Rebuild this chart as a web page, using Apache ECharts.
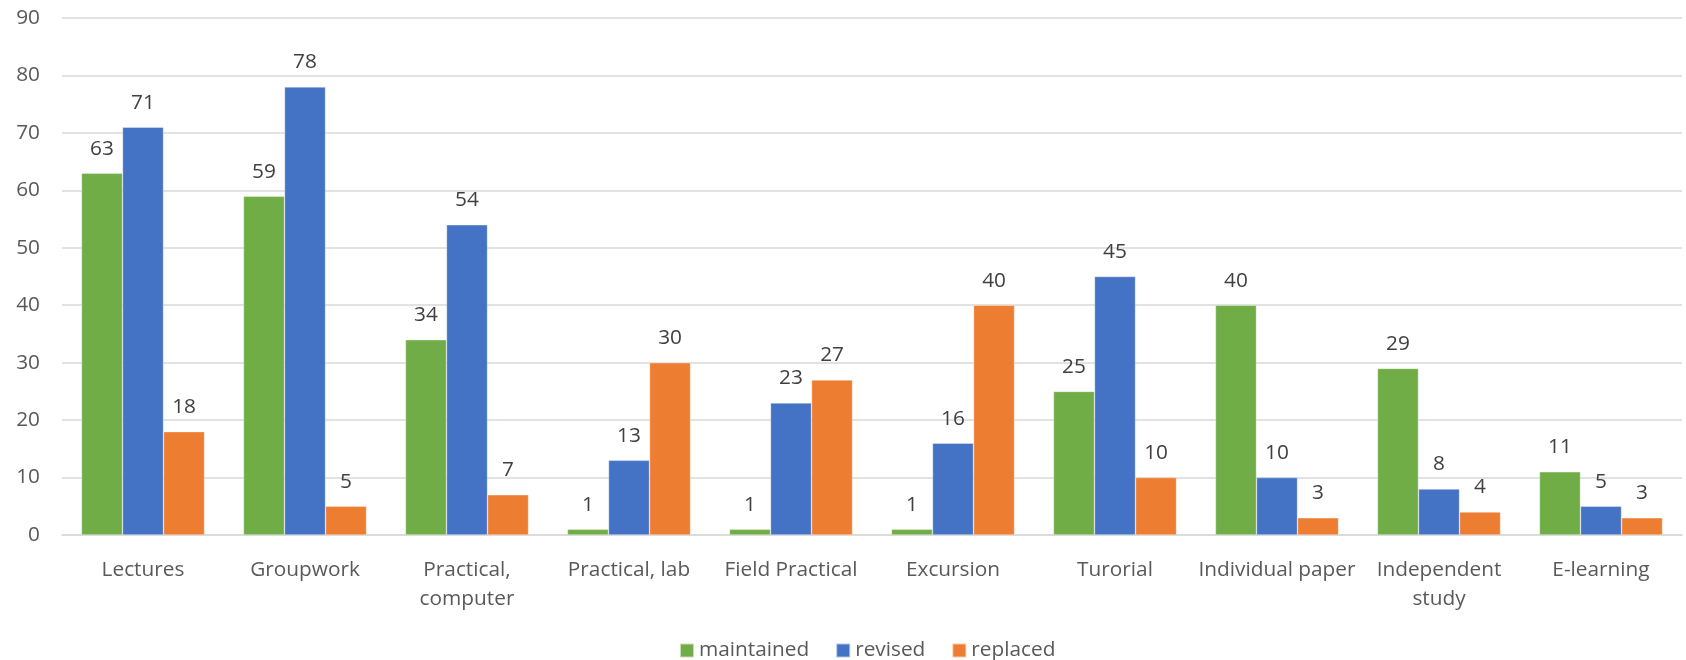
<!DOCTYPE html>
<html>
<head>
<meta charset="utf-8">
<script src="https://cdn.jsdelivr.net/npm/echarts@6/dist/echarts.min.js"></script>
<style>
  html, body { margin: 0; padding: 0; background: #fff; }
  #chart { width: 1686px; height: 660px; }
</style>
</head>
<body>
<div id="chart"></div>
<script>
// Teaching formats and how many were maintained / revised / replaced
const categories = [
  'Lectures', 'Groupwork', 'Practical,\ncomputer', 'Practical, lab', 'Field Practical',
  'Excursion', 'Turorial', 'Individual paper', 'Independent\nstudy', 'E-learning'
];
const maintained = [63, 59, 34, 1, 1, 1, 25, 40, 29, 11];
const revised    = [71, 78, 54, 13, 23, 16, 45, 10, 8, 5];
const replaced   = [18, 5, 7, 30, 27, 40, 10, 3, 4, 3];
const seriesNames = ['maintained', 'revised', 'replaced'];
const seriesColors = ['#70AD47', '#4472C4', '#ED7D31'];

const FONT = '"Open Sans", Lato, sans-serif';
const FS = 20.8;

function barSeries(name, data, color) {
  return {
    name: name,
    type: 'bar',
    data: data,
    barGap: '0%',
    barCategoryGap: '24%',
    itemStyle: { color: color, borderColor: 'rgba(255,255,255,0.6)', borderWidth: 0.6 },
    label: {
      show: true,
      position: 'top',
      distance: 14,
      color: '#404040',
      fontFamily: FONT,
      fontSize: FS
    }
  };
}

const chart = echarts.init(document.getElementById('chart'), null, { renderer: 'canvas' });
chart.setOption({
  animation: false,
  backgroundColor: '#fff',
  grid: { left: 62, right: 4, top: 18, bottom: 125, containLabel: false },
  legend: {
    top: 640,
    left: 679,
    padding: 0,
    icon: 'rect',
    itemWidth: 14,
    itemHeight: 14,
    itemGap: 26,
    textStyle: { color: '#595959', fontFamily: FONT, fontSize: FS },
    data: seriesNames
  },
  xAxis: {
    type: 'category',
    data: categories,
    axisLine: { show: true, lineStyle: { color: '#d9d9d9', width: 1.5 } },
    axisTick: { show: false },
    axisLabel: {
      color: '#595959', fontFamily: FONT, fontSize: FS,
      margin: 21, lineHeight: 29, interval: 0
    }
  },
  yAxis: {
    type: 'value',
    min: 0, max: 90, interval: 10,
    axisLine: { show: false },
    axisTick: { show: false },
    splitLine: { lineStyle: { color: '#d9d9d9', width: 1.5 } },
    axisLabel: { color: '#595959', fontFamily: FONT, fontSize: FS, margin: 22 }
  },
  series: [
    barSeries(seriesNames[0], maintained, seriesColors[0]),
    barSeries(seriesNames[1], revised, seriesColors[1]),
    barSeries(seriesNames[2], replaced, seriesColors[2])
  ]
});
</script>
</body>
</html>
